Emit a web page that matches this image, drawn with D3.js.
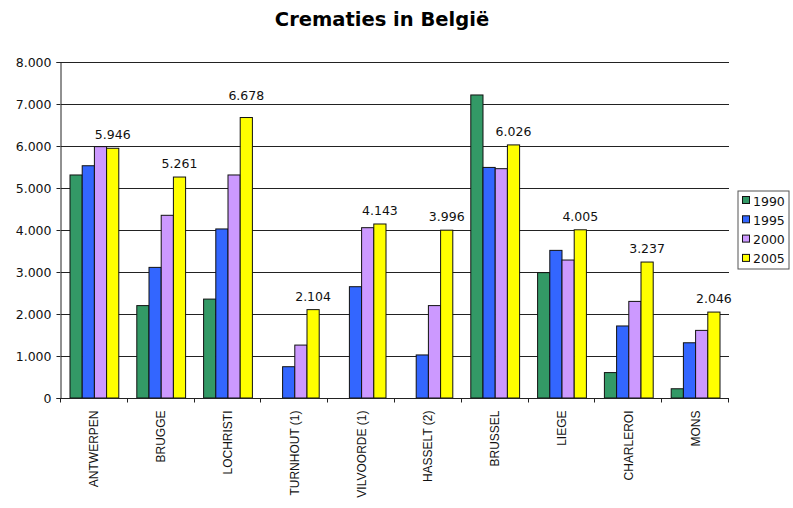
<!DOCTYPE html>
<html>
<head>
<meta charset="utf-8">
<script src="https://cdn.jsdelivr.net/npm/d3@7"></script>
<style>
  body { margin: 0; background: #fff; }
  text { font-family: "DejaVu Sans", Verdana, sans-serif; fill: #111; }
</style>
</head>
<body>
<script>
(function(){

//data
var cities = ["ANTWERPEN", "BRUGGE", "LOCHRISTI", "TURNHOUT (1)", "VILVOORDE (1)",
              "HASSELT (2)", "BRUSSEL", "LIEGE", "CHARLEROI", "MONS"];
var years = ["1990", "1995", "2000", "2005"];
var v1990 = [5310, 2200, 2355, 0, 0, 0, 7215, 2985, 605, 220];
var v1995 = [5530, 3110, 4025, 745, 2650, 1025, 5490, 3515, 1715, 1315];
var v2000 = [5985, 4350, 5310, 1260, 4055, 2200, 5460, 3285, 2300, 1610];
var v2005 = [5946, 5261, 6678, 2104, 4143, 3996, 6026, 4005, 3237, 2046];
var yTicks = [0, 1000, 2000, 3000, 4000, 5000, 6000, 7000, 8000];

var colors = ["#339966", "#3366ff", "#cc99ff", "#ffff00"];
var seriesVals = [v1990, v1995, v2000, v2005];

var width = 793, height = 508;
var margin = {top: 62, right: 64, bottom: 110, left: 61};

var svg = d3.select("body").append("svg")
    .attr("width", width)
    .attr("height", height)
    .style("background-color", "#fff");

//title
svg.append("text")
    .attr("x", 382)
    .attr("y", 26)
    .attr("text-anchor", "middle")
    .style("font-size", "19.5px")
    .style("font-weight", "bold")
    .style("fill", "#000")
    .text("Crematies in België");

var x0 = d3.scaleBand()
    .domain(cities)
    .range([margin.left, width - margin.right]);

var x1 = d3.scaleBand()
    .domain(years)
    .range([9, x0.bandwidth() - 9]);

var y = d3.scaleLinear()
    .domain([0, 8000])
    .range([height - margin.bottom, margin.top]);

var fmt = function(d){ return d3.format(",")(d).replace(/,/g, "."); };

//gridlines
svg.append("g")
    .selectAll("line")
    .data(yTicks.slice(1))
    .enter()
    .append("line")
    .attr("x1", margin.left)
    .attr("x2", width - margin.right)
    .attr("y1", function(d){ return Math.round(y(d)) + 0.5; })
    .attr("y2", function(d){ return Math.round(y(d)) + 0.5; })
    .attr("stroke", "#222")
    .attr("stroke-width", 1);

//bars
var groups = svg.append("g")
    .selectAll("g")
    .data(cities)
    .enter()
    .append("g")
    .attr("transform", function(d){ return "translate(" + x0(d) + ",0)"; });

groups.selectAll("rect")
    .data(function(d, i){
        return years.map(function(yr, j){ return {year: yr, value: seriesVals[j][i], k: j}; })
            .filter(function(e){ return e.value > 0; });
    })
    .enter()
    .append("rect")
    .attr("x", function(d){ return x1(d.year); })
    .attr("y", function(d){ return y(d.value); })
    .attr("width", x1.bandwidth())
    .attr("height", function(d){ return y(0) - y(d.value); })
    .attr("fill", function(d){ return colors[d.k]; })
    .attr("stroke", "#111")
    .attr("stroke-width", 1);

//value labels over 2005 bars, lifted clear of a gridline if they cross one
svg.append("g")
    .selectAll("text")
    .data(v2005)
    .enter()
    .append("text")
    .attr("x", function(d, i){ return x0(cities[i]) + x1("2005") + x1.bandwidth() / 2; })
    .attr("y", function(d){
        var base = y(d) - 9;
        yTicks.forEach(function(t){
            var gy = y(t);
            if (gy > base - 9 && gy < base + 1) base = gy - 4;
        });
        return base;
    })
    .attr("text-anchor", "middle")
    .style("font-size", "12.5px")
    .text(fmt);

//y axis
var yAxis = d3.axisLeft(y)
    .tickValues(yTicks)
    .tickSize(4)
    .tickPadding(5)
    .tickFormat(fmt);

var ya = svg.append("g")
    .attr("transform", "translate(" + (margin.left - 0.5) + ",0)")
    .call(yAxis);
ya.select(".domain").attr("stroke", "#222");
ya.selectAll(".tick line").attr("stroke", "#222");
ya.selectAll("text").style("font-size", "12.5px").attr("fill", "#111");

//x axis: ticks on category boundaries
var xa = svg.append("g")
    .attr("transform", "translate(0," + (y(0) + 0.5) + ")");
xa.append("line")
    .attr("x1", margin.left - 1)
    .attr("x2", width - margin.right)
    .attr("stroke", "#222");
xa.selectAll(".xtick")
    .data(cities.concat(["end"]))
    .enter()
    .append("line")
    .attr("class", "xtick")
    .attr("x1", function(d, i){ return Math.round(margin.left + i * x0.step()) - 0.5; })
    .attr("x2", function(d, i){ return Math.round(margin.left + i * x0.step()) - 0.5; })
    .attr("y1", 0)
    .attr("y2", 4)
    .attr("stroke", "#222");
xa.selectAll(".xlab")
    .data(cities)
    .enter()
    .append("text")
    .attr("class", "xlab")
    .attr("transform", function(d){
        return "translate(" + (x0(d) + x0.bandwidth() / 2 + 4) + ",12) rotate(-90)";
    })
    .attr("text-anchor", "end")
    .style("font-family", "'Liberation Sans', Arial, sans-serif")
    .style("font-size", "12px")
    .text(function(d){ return d; });

//legend
var legend = svg.append("g")
    .attr("transform", "translate(738,191)");
legend.append("rect")
    .attr("width", 51)
    .attr("height", 78)
    .attr("fill", "#fff")
    .attr("stroke", "#555");
var items = legend.selectAll(".item")
    .data(years)
    .enter()
    .append("g")
    .attr("class", "item")
    .attr("transform", function(d, i){ return "translate(4," + (10 + i * 19.3) + ")"; });
items.append("rect")
    .attr("x", 0.5)
    .attr("y", -4.5)
    .attr("width", 7)
    .attr("height", 7)
    .attr("fill", function(d, i){ return colors[i]; })
    .attr("stroke", "#111");
items.append("text")
    .attr("x", 11)
    .attr("y", 4.5)
    .style("font-size", "12.5px")
    .text(function(d){ return d; });

})();
</script>
</body>
</html>
